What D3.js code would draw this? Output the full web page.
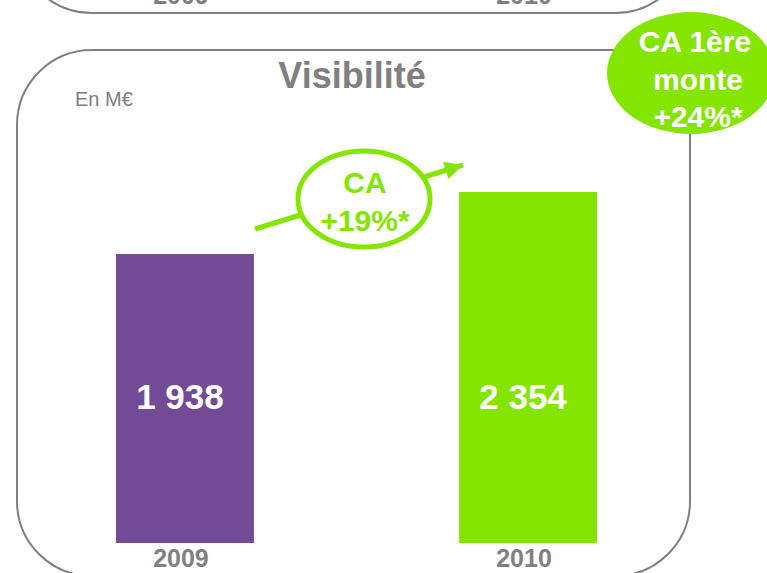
<!DOCTYPE html>
<html>
<head>
<meta charset="utf-8">
<script src="https://cdn.jsdelivr.net/npm/d3@7"></script>
<style>
  html, body { margin: 0; padding: 0; background: #fff; }
  svg { display: block; font-family: "Liberation Sans", Arial, sans-serif; }
</style>
</head>
<body>
<div id="chart"></div>
<script>
// Chart data
const years = ['2009', '2010'];
const values = [1938, 2354];
const valueLabels = ['1 938', '2 354'];
const barColours = ['#734a96', '#84e600'];

const title = 'Visibilité';
const unitLabel = 'En M€';
const growthLines = ['CA', '+19%*'];
const badgeLines = ['CA 1ère', 'monte', '+24%*'];

const W = 767, H = 573;
const grey = '#808080';
const green = '#84e600';

const svg = d3.select('#chart')
  .append('svg')
  .attr('width', W)
  .attr('height', H);

// Panel frames (previous panel peeking in at top, current panel)
const panelX = 17, panelW = 673, panelH = 526, radius = 75;
svg.append('rect')
  .attr('x', panelX).attr('y', 13 - panelH)
  .attr('width', panelW).attr('height', panelH)
  .attr('rx', radius).attr('ry', radius)
  .attr('fill', 'none').attr('stroke', grey).attr('stroke-width', 2);

svg.append('rect')
  .attr('x', panelX).attr('y', 50)
  .attr('width', panelW).attr('height', panelH)
  .attr('rx', radius).attr('ry', radius)
  .attr('fill', 'none').attr('stroke', grey).attr('stroke-width', 2);

// Scales
const x = d3.scaleBand().domain(years).range([116, 597]).paddingInner(0.598).paddingOuter(0);
const y = d3.scaleLinear().domain([0, d3.max(values)]).range([543, 192]);

// Year labels of the previous panel (cut off at the top)
svg.append('g')
  .selectAll('text')
  .data(years)
  .join('text')
  .attr('x', d => x(d) + x.bandwidth() / 2 - 4)
  .attr('y', 4)
  .attr('text-anchor', 'middle')
  .style('font-size', '25px')
  .style('font-weight', '700')
  .style('fill', grey)
  .text(d => d);

// Title + unit
svg.append('text')
  .attr('x', 352).attr('y', 88)
  .attr('text-anchor', 'middle')
  .style('font-size', '36px')
  .style('font-weight', '700')
  .style('fill', grey)
  .text(title);

svg.append('text')
  .attr('x', 75).attr('y', 106)
  .style('font-size', '20px')
  .style('fill', grey)
  .text(unitLabel);

// Bars
svg.append('g')
  .selectAll('rect')
  .data(years)
  .join('rect')
  .attr('x', d => x(d))
  .attr('y', (d, i) => y(values[i]))
  .attr('width', x.bandwidth())
  .attr('height', (d, i) => y(0) - y(values[i]))
  .attr('fill', (d, i) => barColours[i]);

// Value labels inside bars
svg.append('g')
  .selectAll('text')
  .data(years)
  .join('text')
  .attr('x', d => x(d) + x.bandwidth() / 2 - 5)
  .attr('y', 409)
  .attr('text-anchor', 'middle')
  .style('font-size', '35px')
  .style('font-weight', '700')
  .style('fill', '#fff')
  .text((d, i) => valueLabels[i]);

// Year labels under bars
svg.append('g')
  .selectAll('text')
  .data(years)
  .join('text')
  .attr('x', d => x(d) + x.bandwidth() / 2 - 4)
  .attr('y', 567)
  .attr('text-anchor', 'middle')
  .style('font-size', '25px')
  .style('font-weight', '700')
  .style('fill', grey)
  .text(d => d);

// Growth arrow
svg.append('defs')
  .append('marker')
  .attr('id', 'arrow')
  .attr('viewBox', '0 0 10 10')
  .attr('refX', 10).attr('refY', 5)
  .attr('markerWidth', 4).attr('markerHeight', 3.6)
  .attr('markerUnits', 'strokeWidth')
  .attr('orient', 'auto')
  .append('path')
  .attr('d', 'M0,0 L10,5 L0,10 Z')
  .attr('fill', green);

svg.append('line')
  .attr('x1', 255).attr('y1', 229)
  .attr('x2', 463).attr('y2', 165)
  .attr('stroke', green)
  .attr('stroke-width', 5)
  .attr('marker-end', 'url(#arrow)');

svg.append('ellipse')
  .attr('cx', 364).attr('cy', 199)
  .attr('rx', 66).attr('ry', 48)
  .attr('fill', '#fff')
  .attr('stroke', green)
  .attr('stroke-width', 5);

svg.append('g')
  .selectAll('text')
  .data(growthLines)
  .join('text')
  .attr('x', 365)
  .attr('y', (d, i) => 193 + i * 38)
  .attr('text-anchor', 'middle')
  .style('font-size', '30px')
  .style('font-weight', '700')
  .style('fill', green)
  .text(d => d);

// Badge top right (runs past the right edge, as in the original)
svg.append('ellipse')
  .attr('cx', 691).attr('cy', 73)
  .attr('rx', 84).attr('ry', 61)
  .attr('fill', green);

svg.append('g')
  .selectAll('text')
  .data(badgeLines)
  .join('text')
  .attr('x', (d, i) => i === 0 ? 695 : 698)
  .attr('y', (d, i) => 52 + i * 37.5)
  .attr('text-anchor', 'middle')
  .style('font-size', '30px')
  .style('font-weight', '700')
  .style('fill', '#fff')
  .text(d => d);
</script>
</body>
</html>
